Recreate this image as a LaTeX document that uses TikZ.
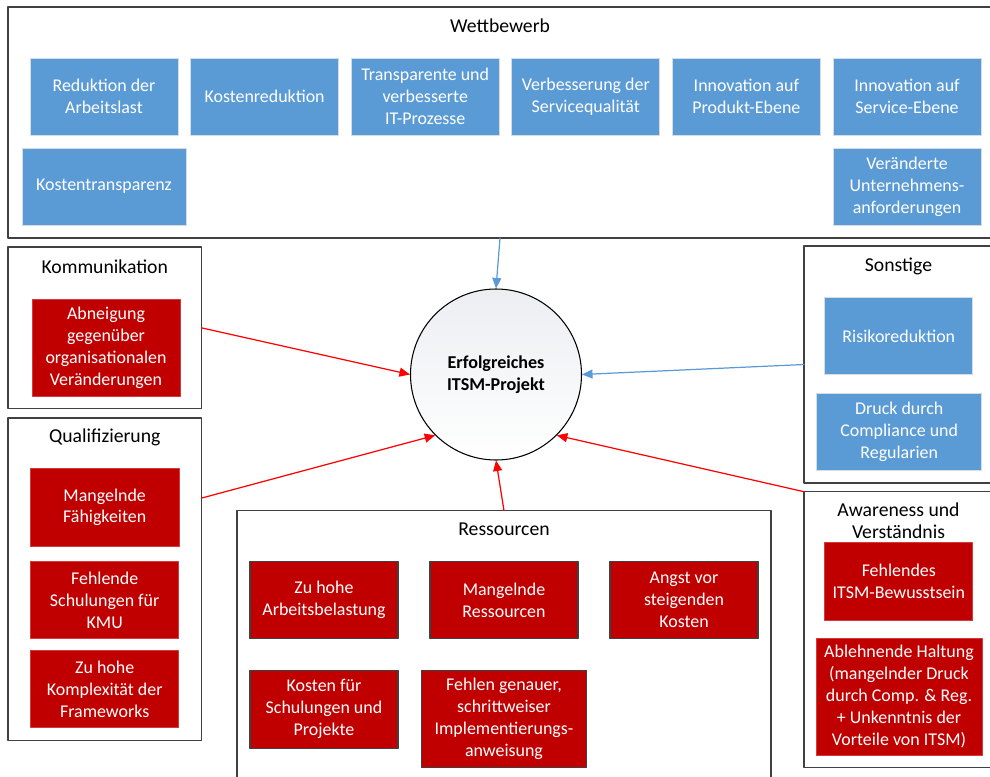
\documentclass[tikz,border=0pt]{standalone}
\usepackage{fontspec}
\setmainfont{Carlito}
\usepackage{xcolor}
\usepackage{tikz}
\usetikzlibrary{arrows.meta,positioning}
\definecolor{boxblue}{HTML}{5B9BD5}
\definecolor{boxred}{HTML}{C00000}
\definecolor{boxborder}{HTML}{D6DCE4}
\definecolor{redborder}{HTML}{D43A3A}
\definecolor{arrowred}{HTML}{FF0000}
\definecolor{arrowblue}{HTML}{5B9BD5}
\definecolor{frameink}{HTML}{404040}
\definecolor{softgray}{HTML}{ECEEF2}
\tikzset{
    every picture/.style={line cap=round,line join=round},
    groupframe/.style={draw=frameink,line width=0.8pt,inner sep=0pt,outer sep=0pt},
    grouptitle/.style={font=\fontsize{11.2}{12.5}\selectfont,align=center,
      inner sep=0pt,text=black},
    factorbox/.style={minimum width=29.6mm,minimum height=15.4mm,inner sep=1pt,
      outer sep=0pt,text=white,font=\fontsize{10.2}{12.5}\selectfont,
      align=center,line width=0.5pt},
    bluebox/.style={factorbox,fill=boxblue,draw=boxborder},
    redbox/.style={factorbox,fill=boxred,draw=redborder},
    resbox/.style={factorbox,fill=boxred,draw=frameink,line width=0.7pt},
    goalnode/.style={circle,draw=black,line width=0.6pt,minimum size=34.2mm,
      inner sep=0pt,top color=softgray,bottom color=white,
      font=\fontsize{10.3}{12.5}\selectfont\bfseries,align=center},
    bluearrow/.style={-{Triangle[length=2.1mm,width=1.8mm]},draw=arrowblue,
      line width=0.7pt},
    redarrow/.style={-{Triangle[length=2.1mm,width=1.8mm]},draw=arrowred,
      line width=0.7pt}
}
\begin{document}
\begin{tikzpicture}[x=0.2mm,y=-0.2mm]
    \clip (0,0) rectangle (990,776);
    % Wettbewerb
    \node[groupframe,minimum width=196.8mm,minimum height=46.2mm] (wett) at (500,122.5) {};
    \node[grouptitle] at ([yshift=-3.8mm]wett.north) {Wettbewerb};
    \node[bluebox] (arbeitslast) at (104,96.5) {Reduktion der\\Arbeitslast};
    \node[bluebox,right=2.52mm of arbeitslast] (kostenred) {Kostenreduktion};
    \node[bluebox,right=2.52mm of kostenred] (prozesse) {Transparente und\\verbesserte\\IT-Prozesse};
    \node[bluebox,right=2.52mm of prozesse] (servqual) {Verbesserung der\\Servicequalität};
    \node[bluebox,right=2.52mm of servqual] (prodinno) {Innovation auf\\Produkt-Ebene};
    \node[bluebox,right=2.52mm of prodinno] (servinno) {Innovation auf\\Service-Ebene};
    \node[bluebox,below=2.6mm of arbeitslast,minimum width=32.8mm] (kostentr) {Kostentransparenz};
    \node[bluebox,below=2.6mm of servinno] (anford) {Veränderte\\Unternehmens-\\anforderungen};
    % Kommunikation
    \node[groupframe,minimum width=38.7mm,minimum height=32.3mm] (komm) at (104.75,327.85) {};
    \node[grouptitle] at ([yshift=-4mm]komm.north) {Kommunikation};
    \node[redbox,minimum height=19.4mm] (abneig) at (106,347.5) {Abneigung\\gegenüber\\organisationalen\\Veränderungen};
    % Qualifizierung
    \node[groupframe,minimum width=38.7mm,minimum height=64.5mm] (quali) at (104.75,579.35) {};
    \node[grouptitle] at ([yshift=-3.8mm]quali.north) {Qualifizierung};
    \node[redbox,minimum width=29.7mm,minimum height=15.7mm] (faehig) at (104.7,507.3) {Mangelnde\\Fähigkeiten};
    \node[redbox,below=3mm of faehig] (schulung) {Fehlende\\Schulungen für\\KMU};
    \node[redbox,below=2.4mm of schulung] (komplex) {Zu hohe\\Komplexität der\\Frameworks};
    % Ressourcen
    \node[groupframe,minimum width=106.8mm,minimum height=55.9mm] (res) at (504,650.35) {};
    \node[grouptitle] at ([yshift=-3.8mm]res.north) {Ressourcen};
    \node[resbox] (belastung) at (324,600.2) {Zu hohe\\Arbeitsbelastung};
    \node[resbox,right=6.4mm of belastung] (ressmangel) {Mangelnde\\Ressourcen};
    \node[resbox,right=6.4mm of ressmangel] (angst) {Angst vor\\steigenden\\Kosten};
    \node[resbox,below=6.3mm of belastung,minimum height=15.6mm] (kosten) {Kosten für\\Schulungen und\\Projekte};
    \node[resbox,below=6.3mm of ressmangel,minimum width=33mm,minimum height=19.4mm] (anleitung) {Fehlen genauer,\\schrittweiser\\Implementierungs-\\anweisung};
    % Sonstige
    \node[groupframe,minimum width=37.8mm,minimum height=47.4mm] (sonst) at (898.5,364.5) {};
    \node[grouptitle] at ([yshift=-4mm]sonst.north) {Sonstige};
    \node[bluebox] (risiko) at (898.8,336.2) {Risikoreduktion};
    \node[bluebox,minimum width=33mm] (druck) at (899.2,431.5) {Druck durch\\Compliance und\\Regularien};
    % Awareness und Verstaendnis
    \node[groupframe,minimum width=37.8mm,minimum height=55.2mm] (aware) at (898.5,629.7) {};
    \node[grouptitle] at ([yshift=-5.9mm]aware.north) {Awareness und\\Verständnis};
    \node[redbox,minimum height=15.6mm] (bewusst) at (898.8,581.7) {Fehlendes\\ITSM-Bewusstsein};
    \node[redbox,minimum width=33.2mm,minimum height=23.5mm] (haltung) at (899,696.8) {Ablehnende Haltung\\(mangelnder Druck\\durch Comp. \& Reg.\\+ Unkenntnis der\\Vorteile von ITSM)};
    % Ziel
    \node[goalnode] (goal) at (496,374.5) {Erfolgreiches\\ITSM-Projekt};
    \draw[bluearrow] (wett.south) -- (goal.north);
    \draw[bluearrow] (sonst.west) -- (goal.east);
    \foreach \src/\dst in {komm.east/goal.west,aware.north west/goal.-45,res.north/goal.south}
        \draw[redarrow] (\src) -- (\dst);
    \draw[redarrow] ([yshift=-16mm]quali.north east) -- (goal.225);
\end{tikzpicture}
\end{document}
